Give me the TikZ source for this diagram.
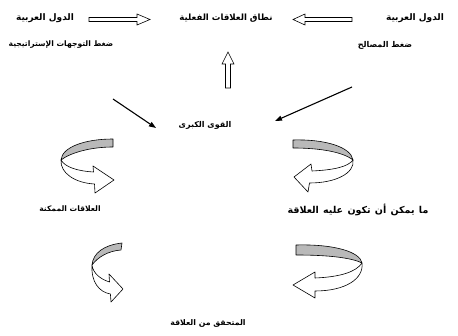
\documentclass[tikz,border=0pt]{standalone}
\usepackage{fontspec}
\newfontfamily\arfont[Script=Arabic]{DejaVu Sans}
\TeXXeTstate=1
\usetikzlibrary{arrows.meta}
\begin{document}
\begin{tikzpicture}[x=1pt,y=-1pt,
  lbl/.style={font=\arfont\bfseries\fontsize{#1}{10}\selectfont, inner sep=0pt},
  lbl/.default=8,
  blockarrow/.style={draw, line width=0.6pt, fill=white, line join=miter},
  band/.style={draw, line width=0.6pt, fill=gray!55, line join=round},
  ribbon/.style={draw, line width=0.6pt, fill=white, line join=round},
  push/.style={-{Triangle[length=7pt,width=5pt]}, line width=1.1pt}]
\useasboundingbox (0,0) rectangle (458,336);

% labels
\node[lbl=9] (arR) at (415,18) {\beginR الدول العربية\endR};
\node[lbl=8.6] (scope) at (226,18) {\beginR نطاق العلاقات الفعلية\endR};
\node[lbl=9] (arL) at (45,18) {\beginR الدول العربية\endR};
\node[lbl=7.6] (strat) at (61,45) {\beginR ضغط التوجهات الإستراتيجية\endR};
\node[lbl=8] (interest) at (385,45) {\beginR ضغط المصالح\endR};
\node[lbl=8] (powers) at (205,125) {\beginR القوى الكبرى\endR};
\node[lbl=7.6] (possible) at (70,209) {\beginR العلاقات الممكنة\endR};
\node[lbl=9.5] (ought) at (358,210) {\spaceskip=4.3pt\beginR ما يمكن أن تكون عليه العلاقة\endR};
\node[lbl=7.8] (achieved) at (208,323) {\beginR المتحقق من العلاقة\endR};

% hollow block arrows
\draw[blockarrow] (352,17.5) -- (305,17.5) -- (305,14) -- (293,19.5) -- (305,25) -- (305,21.5) -- (352,21.5) -- cycle;
\draw[blockarrow] (89,17.5) -- (137,17.5) -- (137,14) -- (150,19.5) -- (137,25) -- (137,21.5) -- (89,21.5) -- cycle;
\draw[blockarrow] (225.5,88) -- (225.5,64) -- (222,64) -- (228,52) -- (234,64) -- (230.5,64) -- (230.5,88) -- cycle;

% pressure arrows
\coordinate (p1s) at (113,99);
\coordinate (p1e) at (156,128);
\coordinate (p2s) at (352,87);
\coordinate (p2e) at (275,121);
\draw[push] (p1s) -- (p1e);
\draw[push] (p2s) -- (p2e);

% curved arrow, upper left
\draw[band] (113,139) .. controls (85,139) and (62,147) .. (61,160)
  .. controls (70,153) and (90,147) .. (113,147) -- cycle;
\draw[ribbon] (61,160) .. controls (60,173) and (75,183) .. (94.5,184)
  -- (95,193) -- (114,180) -- (93,166) -- (93.5,172)
  .. controls (77,171) and (65,167) .. (61,160) -- cycle;

% curved arrow, upper right
\draw[band] (293,140) .. controls (325,139) and (351,147) .. (353,160)
  .. controls (343,152) and (320,148) .. (293,148) -- cycle;
\draw[ribbon] (353,160) .. controls (355,173) and (336,183) .. (309.5,183)
  -- (308,192) -- (294,177) -- (311,164) -- (312,171)
  .. controls (333,170) and (348,167) .. (353,160) -- cycle;

% curved arrow, lower left
\draw[band] (122,243) .. controls (104,245) and (93,253) .. (92,265)
  .. controls (98,257) and (108,251) .. (121,250) -- cycle;
\draw[ribbon] (92,265) .. controls (91,282) and (99,292) .. (110.4,294)
  -- (111,302) -- (123,289) -- (109,274) -- (109.5,282)
  .. controls (100,279) and (93,273) .. (92,265) -- cycle;

% curved arrow, lower right
\draw[band] (296,245) .. controls (335,244) and (360,252) .. (362,263)
  .. controls (352,258) and (330,255) .. (296,255) -- cycle;
\draw[ribbon] (362,263) .. controls (364,279) and (345,291) .. (315,291)
  -- (315,298) -- (293,285) -- (315,272) -- (315,278)
  .. controls (340,277) and (356,272) .. (362,263) -- cycle;
\end{tikzpicture}
\end{document}
